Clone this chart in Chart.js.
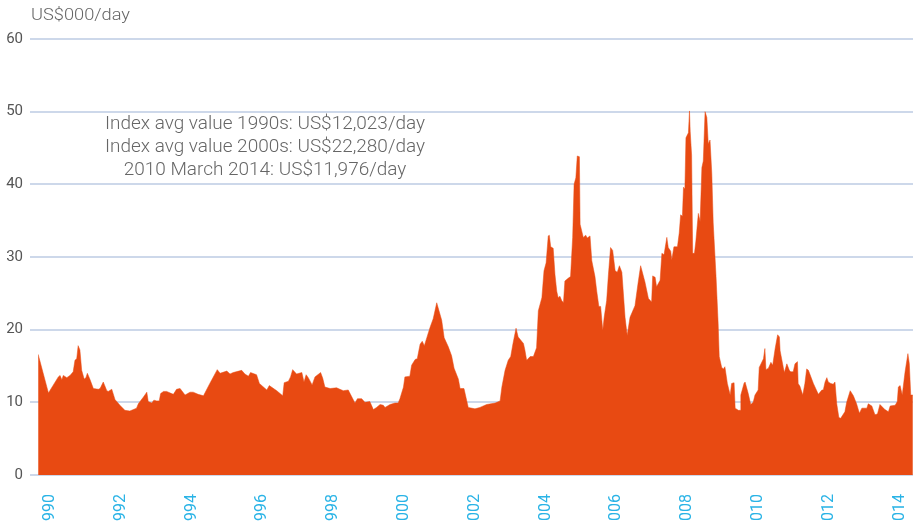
<!DOCTYPE html>
<html>
<head>
<meta charset="utf-8">
<script src="https://cdn.jsdelivr.net/npm/chart.js@4.4.1/dist/chart.umd.min.js"></script>
<style>
  html, body { margin: 0; padding: 0; background: #ffffff; overflow: hidden; }
  #wrap { position: relative; width: 913px; height: 521px; }
</style>
</head>
<body>
<div id="wrap"><canvas id="c"></canvas></div>
<script>
// ---- Data ----
const unitLabel = 'US$000/day';
const annotationLines = [
  'Index avg value 1990s: US$12,023/day',
  'Index avg value 2000s: US$22,280/day',
  '2010 March 2014: US$11,976/day'
];
const yearTicks = [1990, 1992, 1994, 1996, 1998, 2000, 2002, 2004, 2006, 2008, 2010, 2012, 2014];
const valueTicks = [0, 10, 20, 30, 40, 50, 60];

// Dates as decimal years
const dates = [
  1989.75, 1990.04, 1990.08, 1990.32, 1990.37, 1990.42, 1990.46, 1990.56, 1990.65, 1990.74,
  1990.79, 1990.84, 1990.88, 1990.93, 1990.98, 1991.05, 1991.10, 1991.14, 1991.21, 1991.31,
  1991.45, 1991.50, 1991.59, 1991.69, 1991.73, 1991.83, 1991.92, 1992.06, 1992.20, 1992.34,
  1992.53, 1992.58, 1992.72, 1992.82, 1992.86, 1992.96, 1993.02, 1993.10, 1993.17, 1993.21,
  1993.29, 1993.38, 1993.52, 1993.57, 1993.66, 1993.76, 1993.90, 1994.04, 1994.13, 1994.27,
  1994.42, 1994.60, 1994.81, 1994.89, 1995.08, 1995.17, 1995.26, 1995.50, 1995.59, 1995.69,
  1995.75, 1995.92, 1996.00, 1996.21, 1996.28, 1996.49, 1996.66, 1996.70, 1996.82, 1996.88,
  1996.94, 1997.05, 1997.20, 1997.26, 1997.32, 1997.38, 1997.49, 1997.57, 1997.73, 1997.79,
  1997.85, 1998.00, 1998.18, 1998.37, 1998.51, 1998.70, 1998.77, 1998.89, 1998.98, 1999.12,
  1999.22, 1999.31, 1999.41, 1999.50, 1999.55, 1999.69, 1999.83, 1999.92, 1999.97, 2000.07,
  2000.11, 2000.25, 2000.30, 2000.40, 2000.46, 2000.54, 2000.60, 2000.66, 2000.73, 2000.82,
  2000.91, 2001.01, 2001.05, 2001.15, 2001.22, 2001.34, 2001.43, 2001.50, 2001.62, 2001.67,
  2001.78, 2001.84, 2001.90, 2002.09, 2002.23, 2002.42, 2002.66, 2002.80, 2002.85, 2002.94,
  2003.03, 2003.10, 2003.16, 2003.25, 2003.31, 2003.46, 2003.50, 2003.55, 2003.65, 2003.74,
  2003.83, 2003.88, 2003.98, 2004.04, 2004.10, 2004.16, 2004.19, 2004.23, 2004.30, 2004.35,
  2004.40, 2004.44, 2004.49, 2004.54, 2004.59, 2004.63, 2004.73, 2004.79, 2004.85, 2004.89,
  2004.94, 2004.98, 2005.04, 2005.06, 2005.15, 2005.22, 2005.26, 2005.34, 2005.39, 2005.48,
  2005.53, 2005.59, 2005.64, 2005.70, 2005.74, 2005.81, 2005.86, 2005.92, 2005.98, 2006.05,
  2006.11, 2006.17, 2006.24, 2006.33, 2006.39, 2006.47, 2006.61, 2006.70, 2006.77, 2006.89,
  2006.99, 2007.08, 2007.11, 2007.18, 2007.22, 2007.32, 2007.37, 2007.43, 2007.51, 2007.55,
  2007.62, 2007.65, 2007.71, 2007.81, 2007.86, 2007.90, 2007.95, 2007.98, 2008.02, 2008.05,
  2008.12, 2008.15, 2008.17, 2008.21, 2008.24, 2008.29, 2008.33, 2008.40, 2008.45, 2008.50,
  2008.54, 2008.59, 2008.64, 2008.68, 2008.73, 2008.78, 2008.82, 2008.90, 2008.96, 2008.99,
  2009.06, 2009.11, 2009.15, 2009.22, 2009.30, 2009.34, 2009.41, 2009.44, 2009.53, 2009.58,
  2009.60, 2009.69, 2009.72, 2009.81, 2009.88, 2009.95, 2010.00, 2010.09, 2010.12, 2010.24,
  2010.28, 2010.31, 2010.38, 2010.45, 2010.50, 2010.57, 2010.64, 2010.69, 2010.71, 2010.80,
  2010.83, 2010.90, 2010.97, 2011.01, 2011.08, 2011.13, 2011.20, 2011.22, 2011.27, 2011.35,
  2011.41, 2011.46, 2011.51, 2011.65, 2011.79, 2011.89, 2011.93, 2011.98, 2012.03, 2012.07,
  2012.14, 2012.21, 2012.26, 2012.31, 2012.37, 2012.42, 2012.54, 2012.59, 2012.69, 2012.78,
  2012.87, 2012.95, 2013.02, 2013.16, 2013.20, 2013.30, 2013.39, 2013.46, 2013.53, 2013.67,
  2013.77, 2013.82, 2013.96, 2014.02, 2014.05, 2014.10, 2014.16, 2014.24, 2014.32, 2014.36,
  2014.40, 2014.46
];

// Index values, US$000/day
const rates = [
  16.6, 11.3, 11.6, 13.5, 13.7, 13.1, 13.7, 13.4, 13.7, 14.2,
  15.8, 16.0, 17.8, 17.2, 14.4, 13.2, 13.4, 14.0, 13.2, 11.9,
  11.8, 11.9, 12.8, 11.6, 11.5, 11.8, 10.4, 9.6, 8.9, 8.8,
  9.2, 9.8, 10.7, 11.4, 10.1, 9.9, 10.3, 10.2, 10.2, 11.2,
  11.5, 11.5, 11.2, 11.1, 11.8, 11.9, 11.0, 11.4, 11.4, 11.1,
  10.9, 12.6, 14.5, 14.0, 14.3, 13.9, 14.1, 14.4, 13.9, 13.6,
  14.1, 13.8, 12.6, 11.7, 12.3, 11.6, 10.9, 12.7, 12.9, 13.5,
  14.5, 13.9, 14.1, 12.8, 13.8, 13.4, 12.4, 13.5, 14.1, 13.3,
  12.1, 11.9, 12.0, 11.6, 11.7, 9.9, 10.5, 10.5, 10.0, 10.1,
  9.0, 9.3, 9.7, 9.6, 9.3, 9.7, 9.9, 9.9, 10.5, 12.1,
  13.5, 13.6, 15.1, 15.9, 16.0, 18.0, 18.4, 17.8, 18.9, 20.3,
  21.5, 23.7, 23.0, 21.3, 18.9, 17.6, 16.4, 14.7, 13.2, 11.9,
  11.9, 10.6, 9.3, 9.1, 9.3, 9.7, 9.9, 10.2, 12.1, 14.4,
  15.8, 16.3, 18.0, 20.2, 19.0, 18.1, 17.2, 15.8, 16.3, 16.3,
  17.5, 22.6, 24.4, 28.1, 29.2, 32.9, 33.0, 31.4, 31.2, 27.6,
  25.3, 24.4, 24.6, 24.0, 23.7, 26.7, 27.1, 27.3, 32.7, 40.0,
  40.9, 43.9, 43.8, 34.5, 32.7, 33.0, 32.6, 32.9, 29.5, 27.3,
  25.3, 23.2, 23.2, 19.9, 21.7, 24.0, 27.6, 31.3, 30.9, 28.1,
  27.9, 28.8, 27.9, 21.7, 19.2, 21.7, 23.3, 26.5, 28.8, 26.6,
  24.3, 23.8, 27.4, 27.2, 25.9, 26.8, 30.5, 30.3, 32.7, 31.3,
  30.8, 29.6, 31.4, 31.4, 33.3, 35.8, 35.6, 39.6, 39.4, 46.4,
  47.1, 50.1, 47.3, 44.0, 30.5, 30.5, 32.2, 36.0, 34.9, 42.3,
  43.2, 50.0, 49.2, 45.6, 46.1, 41.5, 34.7, 27.3, 20.8, 16.3,
  14.8, 14.6, 14.9, 12.6, 11.0, 12.6, 12.7, 9.2, 8.9, 8.9,
  11.0, 12.6, 12.8, 11.2, 9.7, 10.0, 11.0, 11.7, 14.8, 16.0,
  17.4, 14.5, 14.7, 15.5, 15.1, 17.4, 19.3, 19.0, 17.1, 14.8,
  14.1, 15.3, 14.4, 14.2, 14.2, 15.3, 15.6, 12.6, 12.2, 11.0,
  12.6, 14.6, 14.4, 12.6, 11.1, 11.7, 11.7, 12.8, 13.4, 12.8,
  12.6, 12.5, 12.8, 9.8, 7.9, 7.8, 8.7, 10.0, 11.6, 10.9,
  9.8, 8.5, 9.2, 9.2, 9.8, 9.5, 8.3, 8.4, 9.7, 9.0,
  8.7, 9.5, 9.6, 10.1, 12.1, 12.3, 11.0, 14.2, 16.7, 15.3,
  11.0, 11.0
];

// ---- Chart ----
const points = dates.map((d, i) => ({ x: d, y: rates[i] }));

function fittedText(ctx, text, x, y, sx) {
  ctx.save();
  ctx.translate(x, y);
  ctx.scale(sx, 1);
  ctx.fillText(text, 0, 0);
  ctx.restore();
}

const textPlugin = {
  id: 'texts',
  afterDraw(chart) {
    const ctx = chart.ctx;
    ctx.save();
    ctx.fillStyle = '#666666';
    ctx.textBaseline = 'middle';
    ctx.font = '300 17px Roboto, "Open Sans", sans-serif';
    ctx.textAlign = 'left';
    const wu = ctx.measureText(unitLabel).width;
    fittedText(ctx, unitLabel, 31, 16, 99 / wu);
    ctx.font = '300 18px Roboto, "Open Sans", sans-serif';
    ctx.textAlign = 'center';
    const w1 = ctx.measureText(annotationLines[0]).width;
    const sx = 320 / w1;
    annotationLines.forEach((t, i) => {
      fittedText(ctx, t, 265, 124 + i * 23, sx);
    });
    ctx.restore();
  }
};

new Chart(document.getElementById('c'), {
  type: 'line',
  data: {
    datasets: [{
      data: points,
      fill: 'origin',
      backgroundColor: '#e84a12',
      borderColor: '#e84a12',
      borderWidth: 0.5,
      pointRadius: 0,
      tension: 0
    }]
  },
  options: {
    responsive: true,
    maintainAspectRatio: false,
    animation: false,
    layout: { padding: { top: 39, left: 0, right: 0, bottom: 0 } },
    plugins: { legend: { display: false }, tooltip: { enabled: false } },
    scales: {
      x: {
        type: 'linear',
        min: 1989.746,
        max: 2014.464,
        grid: { display: false, drawTicks: false },
        border: { display: false },
        afterBuildTicks: (s) => { s.ticks = yearTicks.map(v => ({ value: v })); },
        afterFit: (s) => { s.height = 46; s.paddingLeft = 0; s.paddingRight = 0; },
        ticks: {
          autoSkip: false,
          maxRotation: 90,
          minRotation: 90,
          padding: 19,
          labelOffset: 3,
          color: '#29b3e6',
          font: { family: 'Roboto, sans-serif', size: 16 },
          callback: (v) => String(v)
        }
      },
      y: {
        min: 0,
        max: 60,
        afterBuildTicks: (s) => { s.ticks = valueTicks.map(v => ({ value: v })); },
        afterFit: (s) => { s.width = 38; },
        border: { display: false },
        grid: { color: '#cdd8ea', lineWidth: 2, tickLength: 8, drawTicks: true },
        ticks: {
          padding: 7,
          color: '#555555',
          font: { family: 'Roboto, sans-serif', size: 15 },
          callback: (v) => String(v)
        }
      }
    }
  },
  plugins: [textPlugin]
});
</script>
</body>
</html>
